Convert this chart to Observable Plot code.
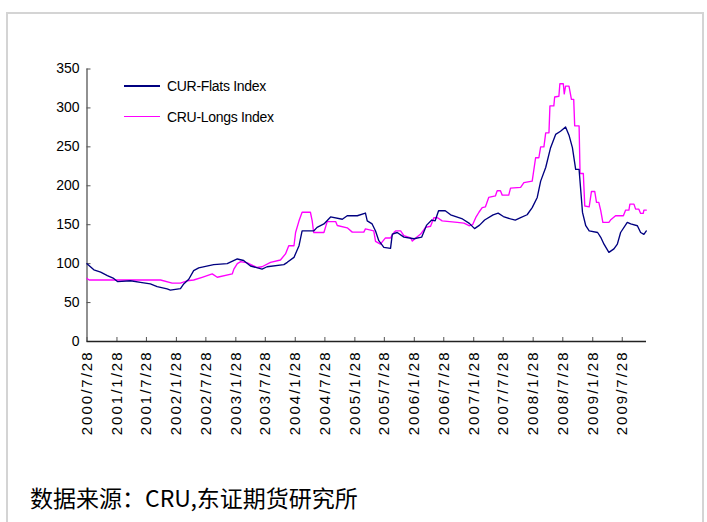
<!DOCTYPE html>
<html><head><meta charset="utf-8">
<script src="https://cdn.jsdelivr.net/npm/d3@7"></script>
<script src="https://cdn.jsdelivr.net/npm/@observablehq/plot@0.6"></script>
<style>
body{margin:0;background:#fff;}
#wrap{position:relative;width:707px;height:522px;overflow:hidden;font-family:"Liberation Sans",Arial,sans-serif;background:#fff;}
#frame{position:absolute;left:6px;top:12px;width:698px;height:600px;border:2px solid #d4d4d4;box-sizing:border-box;}
#chart{position:absolute;left:0;top:0;}
.leg{position:absolute;height:20px;line-height:20px;font-size:14px;letter-spacing:-0.3px;color:#000;white-space:nowrap;}
.sw{position:absolute;left:0;top:9px;width:36px;height:1.5px;}
.lt{position:absolute;left:43px;top:0;}
#caption{position:absolute;left:30px;top:482px;font-family:"Noto Sans CJK SC",sans-serif;font-size:23px;line-height:30px;color:#000;white-space:nowrap;}
</style></head><body>
<div id="wrap"><div id="frame"></div><div id="chart"></div><div id="legend"></div><div id="caption">数据来源：CRU,东证期货研究所</div></div>
<script>
const seriesNames = ["CUR-Flats Index", "CRU-Longs Index"];
const seriesColors = ["#000080", "#ff00ff"];
const yTicks = [0, 50, 100, 150, 200, 250, 300, 350];
const xTickLabels = ["2000/7/28","2001/1/28","2001/7/28","2002/1/28","2002/7/28","2003/1/28","2003/7/28","2004/1/28","2004/7/28","2005/1/28","2005/7/28","2006/1/28","2006/7/28","2007/1/28","2007/7/28","2008/1/28","2008/7/28","2009/1/28","2009/7/28"];
const xRange = ["2000-07-28", "2009-12-24"];

const flatsDates = ["2000-07-28","2000-09-08","2000-10-20","2000-11-30","2001-01-08","2001-01-31","2001-04-21","2001-06-21","2001-08-21","2001-10-02","2001-12-02","2001-12-22","2002-02-22","2002-03-14","2002-04-14","2002-05-14","2002-06-14","2002-09-14","2002-12-06","2003-02-06","2003-03-17","2003-04-28","2003-07-08","2003-08-08","2003-11-19","2003-12-10","2004-01-20","2004-02-20","2004-03-10","2004-05-20","2004-06-10","2004-07-22","2004-09-01","2004-11-12","2004-12-12","2005-02-12","2005-04-03","2005-04-14","2005-05-14","2005-06-04","2005-06-24","2005-07-25","2005-09-04","2005-09-15","2005-10-15","2005-11-25","2006-01-26","2006-03-14","2006-04-14","2006-05-15","2006-06-05","2006-06-26","2006-08-06","2006-09-08","2006-11-20","2007-01-01","2007-02-02","2007-03-05","2007-04-05","2007-05-27","2007-06-27","2007-07-29","2007-09-11","2007-10-10","2007-11-12","2007-12-22","2008-01-22","2008-02-22","2008-03-14","2008-04-14","2008-05-14","2008-06-14","2008-07-14","2008-08-14","2008-09-04","2008-09-25","2008-10-15","2008-11-05","2008-11-26","2008-12-16","2009-01-06","2009-02-27","2009-03-18","2009-04-07","2009-05-07","2009-06-07","2009-06-28","2009-07-18","2009-08-28","2009-09-18","2009-10-29","2009-11-18","2009-12-08","2009-12-23"];
const flatsValues = [100,92,89,84.6,81,77,78,76,74,70.5,67.5,66,68,74,80,91,94.5,98.7,100,106,104,97,93,96,98.7,101.7,108,123,142,142,146.6,151,160,157,161.5,161.5,165,155,151,142,129.5,121,119.6,138,140,134,132,134,149.5,156,155,168,168,162.7,157.4,151.7,145,149.5,156,162.7,164.8,160.5,157.4,156,159,162.8,172,185,206,223.5,249,266,270,275.6,265,249,221,221,165.8,148.7,142,140,133.8,125,114.5,119,125,140,153,151,148.7,140,137.7,142];

const longsDates = ["2000-07-28","2000-08-10","2001-10-23","2002-01-02","2002-02-22","2002-04-04","2002-05-14","2002-07-05","2002-09-05","2002-10-06","2003-01-06","2003-01-16","2003-02-06","2003-02-27","2003-04-08","2003-06-08","2003-07-08","2003-08-29","2003-10-29","2003-11-29","2003-12-19","2004-01-20","2004-01-30","2004-02-20","2004-03-10","2004-04-30","2004-05-11","2004-05-20","2004-07-22","2004-08-11","2004-10-02","2004-10-12","2004-12-12","2005-01-12","2005-03-24","2005-04-03","2005-05-24","2005-06-04","2005-07-04","2005-08-04","2005-09-04","2005-09-25","2005-10-05","2005-11-05","2005-11-25","2006-01-06","2006-01-16","2006-02-06","2006-03-08","2006-04-07","2006-05-08","2006-05-28","2006-06-20","2006-07-18","2006-10-19","2006-11-29","2006-12-30","2007-01-21","2007-02-09","2007-03-01","2007-03-21","2007-04-10","2007-04-30","2007-06-10","2007-06-21","2007-07-11","2007-07-22","2007-08-31","2007-09-11","2007-11-12","2007-12-02","2008-01-22","2008-02-12","2008-03-03","2008-03-14","2008-04-03","2008-04-14","2008-05-04","2008-05-10","2008-06-03","2008-06-08","2008-07-04","2008-07-10","2008-07-31","2008-08-06","2008-08-14","2008-09-04","2008-09-19","2008-10-03","2008-10-09","2008-11-05","2008-11-11","2008-12-01","2008-12-10","2009-01-06","2009-01-20","2009-02-09","2009-02-20","2009-03-06","2009-03-18","2009-03-31","2009-05-07","2009-05-17","2009-06-17","2009-08-04","2009-08-18","2009-09-07","2009-09-13","2009-10-08","2009-10-18","2009-11-07","2009-11-18","2009-12-04","2009-12-08","2009-12-23"];
const longsValues = [81,79,79,75,75,78,79,82.5,86.8,82.5,86.8,93,100,102.6,101,95,96,101.7,104.7,112.5,123,123,140,155,166,166,155,140,140,154,154,149,146,140.5,140.5,144.6,142,128.6,125,133,133,140,142,142,136,133,129,133,138,146.6,148,159,159,155,153,152,148.7,150,159,166,172,173,185,187,193.6,193.6,188,188,197,198,204,206,236,236,250,250,268,268,302.6,302.6,314,315,331,331,318,328,328,311,311,277,277,215.8,215.8,174,173,192.7,192.7,178.6,178.6,168,153,153,156,161.5,161.5,168.8,168.8,176.5,176.5,170,170,164.5,164.5,168.8,168.8];

const parse = d3.timeParse("%Y-%m-%d");
const flats = flatsDates.map((d, i) => ({date: parse(d), value: flatsValues[i]}));
const longs = longsDates.map((d, i) => ({date: parse(d), value: longsValues[i]}));
const xTicks = xTickLabels.map(s => { const [y, m, d] = s.split("/").map(Number); return new Date(y, m - 1, d); });
const labelByTime = new Map(xTicks.map((d, i) => [+d, xTickLabels[i]]));
const x0 = parse(xRange[0]), x1 = parse(xRange[1]);

const chart = Plot.plot({
  width: 707, height: 445,
  marginLeft: 86.5, marginRight: 61, marginTop: 68.5, marginBottom: 104,
  style: {fontFamily: "'Liberation Sans', Arial, sans-serif", fontSize: "14px", color: "#000", background: "transparent"},
  x: {type: "time", domain: [x0, x1]},
  y: {domain: [0, 350]},
  marks: [
    Plot.axisY(yTicks, {tickSize: 0, tickPadding: 7.5, fontSize: 14, fill: "#000", label: null}),
    Plot.axisY(yTicks, {tickSize: -4, text: null, stroke: "#555", label: null}),
    Plot.axisX(xTicks, {tickSize: 0, tickPadding: 9, tickRotate: -90, fontSize: 15, fill: "#000", tickFormat: d => labelByTime.get(+d), label: null}),
    Plot.axisX(xTicks, {tickSize: -4, text: null, stroke: "#555", label: null}),
    Plot.ruleX([x0], {stroke: "#555", strokeWidth: 1.3}),
    Plot.ruleY([0], {stroke: "#222", strokeWidth: 1.3}),
    Plot.line(longs, {x: "date", y: "value", stroke: seriesColors[1], strokeWidth: 1.35}),
    Plot.line(flats, {x: "date", y: "value", stroke: seriesColors[0], strokeWidth: 1.35})
  ]
});
document.getElementById("chart").appendChild(chart);
chart.querySelectorAll('g[aria-label="x-axis tick label"] text').forEach(t => t.setAttribute("letter-spacing", "2"));

const legend = document.getElementById("legend");
const legendTops = [76, 106.5];
seriesNames.forEach((name, i) => {
  const el = document.createElement("div");
  el.className = "leg";
  el.style.left = "124px";
  el.style.top = legendTops[i] + "px";
  el.innerHTML = `<span class="sw" style="background:${seriesColors[i]}"></span><span class="lt">${name}</span>`;
  legend.appendChild(el);
});
</script>
</body></html>
